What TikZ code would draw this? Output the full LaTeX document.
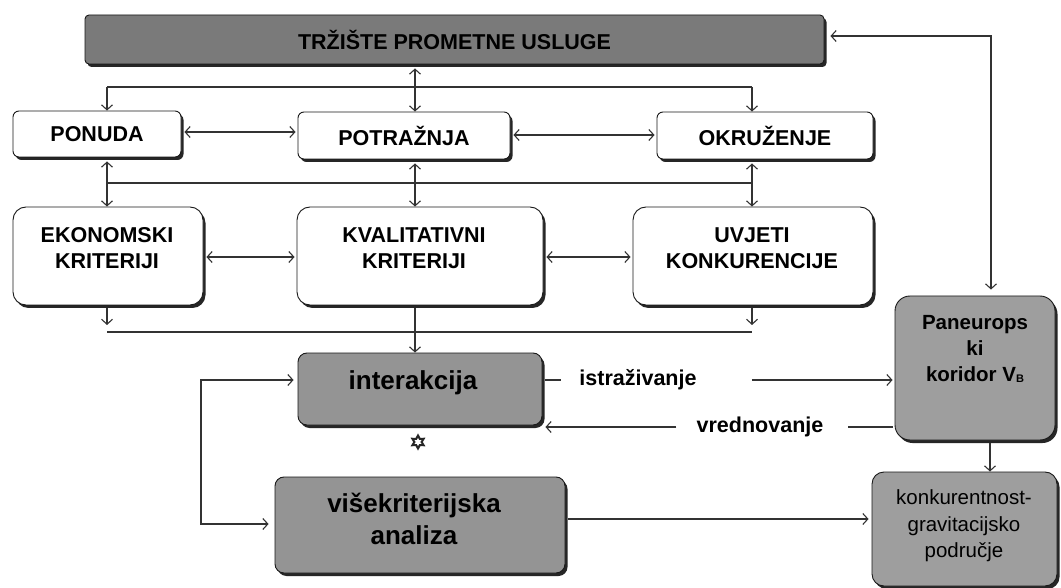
\documentclass[tikz,border=0pt]{standalone}
\usepackage{fontspec}
\setmainfont{Liberation Sans}
\usetikzlibrary{arrows.meta,shadows,shapes.geometric}
\tikzset{
  conn/.style={draw=black!80, line width=1.1pt},
  >={Straight Barb[length=5pt,width=11pt]},
  basebox/.style={draw=black!90, line width=0.9pt, inner sep=0pt,
    drop shadow={shadow xshift=2.5pt, shadow yshift=-3pt, fill=black!85, opacity=1}},
  wbox/.style={basebox, fill=white, rounded corners=6pt},
  wbigbox/.style={basebox, fill=white, rounded corners=13pt},
  gbox/.style={basebox, fill=black!42, rounded corners=9pt},
  lbl/.style={font=\fontsize{21.5}{26}\selectfont\bfseries, align=center, inner sep=0pt},
  biglbl/.style={font=\fontsize{26}{32}\selectfont\bfseries, align=center, inner sep=0pt},
  seglbl/.style={font=\fontsize{21.5}{26}\selectfont\bfseries, fill=white, inner ysep=2pt},
}
\begin{document}
\begin{tikzpicture}[x=1pt,y=-1pt]
\useasboundingbox[fill=white] (0,0) rectangle (1061,588);

% top bar
\node[basebox, fill=black!52, rounded corners=4pt, minimum width=739pt, minimum height=49pt,
      font=\fontsize{21.5}{24}\selectfont\bfseries] (top) at (454.5,39.5) {TRŽIŠTE PROMETNE USLUGE};

% row 1
\node[wbox, minimum width=168pt, minimum height=46pt, lbl] (ponuda) at (97,134) {PONUDA};
\node[wbox, minimum width=212pt, minimum height=47pt, lbl] (potr) at (404,135.5) {POTRAŽNJA};
\node[wbox, minimum width=216pt, minimum height=47pt, lbl] (okr) at (765,135.5) {OKRUŽENJE};

% row 3
\node[wbigbox, minimum width=190pt, minimum height=98pt] (ekon) at (108,256) {};
\node[lbl] (ekont) at (107,248) {EKONOMSKI\\KRITERIJI};
\node[wbigbox, minimum width=246pt, minimum height=98pt] (kval) at (420,256) {};
\node[lbl] (kvalt) at (414,248) {KVALITATIVNI\\KRITERIJI};
\node[wbigbox, minimum width=240pt, minimum height=98pt] (uvj) at (753,256) {};
\node[lbl] (uvjt) at (752,248) {UVJETI\\KONKURENCIJE};

% grey boxes
\node[gbox, minimum width=244pt, minimum height=72pt] (inter) at (420,389) {};
\node[biglbl] (intert) at (413,383) {interakcija};
\node[star, star points=6, star point ratio=1.8, minimum size=13pt, inner sep=0pt,
      draw=black!85, line width=2pt, fill=white] (star) at (418,442) {};
\node[gbox, minimum width=290pt, minimum height=96pt] (vise) at (420,525) {};
\node[biglbl] (viset) at (414,519) {višekriterijska\\analiza};
\node[gbox, fill=black!38, rounded corners=15pt, minimum width=160pt, minimum height=144pt] (paneu) at (975,368) {};
\node[font=\fontsize{20.5}{26}\selectfont\bfseries, align=center, inner sep=0pt] (paneut) at (975,349) {Paneurops\\ki\\koridor V\raisebox{-1.5pt}{\fontsize{11}{11}\selectfont B}};
\node[gbox, fill=black!38, rounded corners=12pt, minimum width=185pt, minimum height=114pt] (konk) at (964.5,529) {};
\node[font=\fontsize{20.5}{26.5}\selectfont, align=center, inner sep=0pt] (konkt) at (964,526) {konkurentnost-\\gravitacijsko\\područje};

% coordinates
\coordinate (h1L) at (107,87);
\coordinate (h1R) at (752,87);
\coordinate (h2L) at (107,183);
\coordinate (h2R) at (752,183);
\coordinate (h3L) at (107,332);
\coordinate (h3R) at (752,332);
\coordinate (cx) at (415,0);
\coordinate (lp1) at (201,380);
\coordinate (lp2) at (201,524);
\coordinate (rc) at (991,36);
\coordinate (pk) at (990,0);
\coordinate (yV) at (0,519);

% top distribution line
\draw[conn] (h1L) -- (h1R);
\draw[conn,->] (h1L) -- (h1L |- ponuda.north);
\draw[conn,->] (h1R) -- (h1R |- okr.north);
\draw[conn,<->] ([yshift=-4pt]cx |- top.south) -- (cx |- potr.north);

% row 1 horizontal
\draw[conn,<->] ([xshift=3pt]ponuda.east |- 0,132) -- ([xshift=-2pt]potr.west |- 0,132);
\draw[conn,<->] ([xshift=3pt]potr.east |- 0,135) -- ([xshift=-2pt]okr.west |- 0,135);

% second line
\draw[conn] (h2L) -- (h2R);
\draw[conn,<->] ([yshift=-4pt]h2L |- ponuda.south) -- (h2L |- ekon.north);
\draw[conn,<->] ([yshift=-4pt]cx |- potr.south) -- (cx |- kval.north);
\draw[conn,<->] ([yshift=-4pt]h2R |- okr.south) -- (h2R |- uvj.north);

% row 3 horizontal
\draw[conn,<->] ([xshift=3pt]ekon.east |- 0,257) -- ([xshift=-2pt]kval.west |- 0,257);
\draw[conn,<->] ([xshift=3pt]kval.east |- 0,257) -- ([xshift=-2pt]uvj.west |- 0,257);

% third line
\draw[conn] (h3L) -- (h3R);
\draw[conn,->] ([yshift=-3pt]h3L |- ekon.south) -- ([yshift=7pt]h3L);
\draw[conn,->] ([yshift=-3pt]h3R |- uvj.south) -- ([yshift=7pt]h3R);
\draw[conn,->] ([yshift=-3pt]cx |- kval.south) -- (cx |- inter.north);

% loop
\draw[conn,<->] ([xshift=-4pt]lp1 -| inter.west) -- (lp1) -- (lp2) -- ([xshift=-6pt]lp2 -| vise.west);

% right connection
\draw[conn,<->] ([xshift=6pt]rc -| top.east) -- (rc) -- ([yshift=6pt]rc |- paneu.north);

% istrazivanje / vrednovanje
\node[seglbl, inner xsep=0pt] (ist) at (638,380) {istraživanje};
\draw[conn] ([xshift=3pt]inter.east |- ist) -- ([xshift=-18pt]ist.west);
\draw[conn,->] ([xshift=55pt]ist.east) -- ([xshift=-2pt]paneu.west |- ist);
\node[seglbl, inner xsep=0pt] (vred) at (760,427) {vrednovanje};
\draw[conn] ([xshift=-2pt]paneu.west |- vred) -- ([xshift=24pt]vred.east);
\draw[conn,->] ([xshift=-20pt]vred.west) -- ([xshift=3pt]inter.east |- vred);

% paneu -> konk
\draw[conn,->] ([yshift=-3pt]pk |- paneu.south) -- (pk |- konk.north);

% vise -> konk
\draw[conn,->] ([xshift=3pt]vise.east |- yV) -- ([xshift=-3pt]konk.west |- yV);
\end{tikzpicture}
\end{document}
